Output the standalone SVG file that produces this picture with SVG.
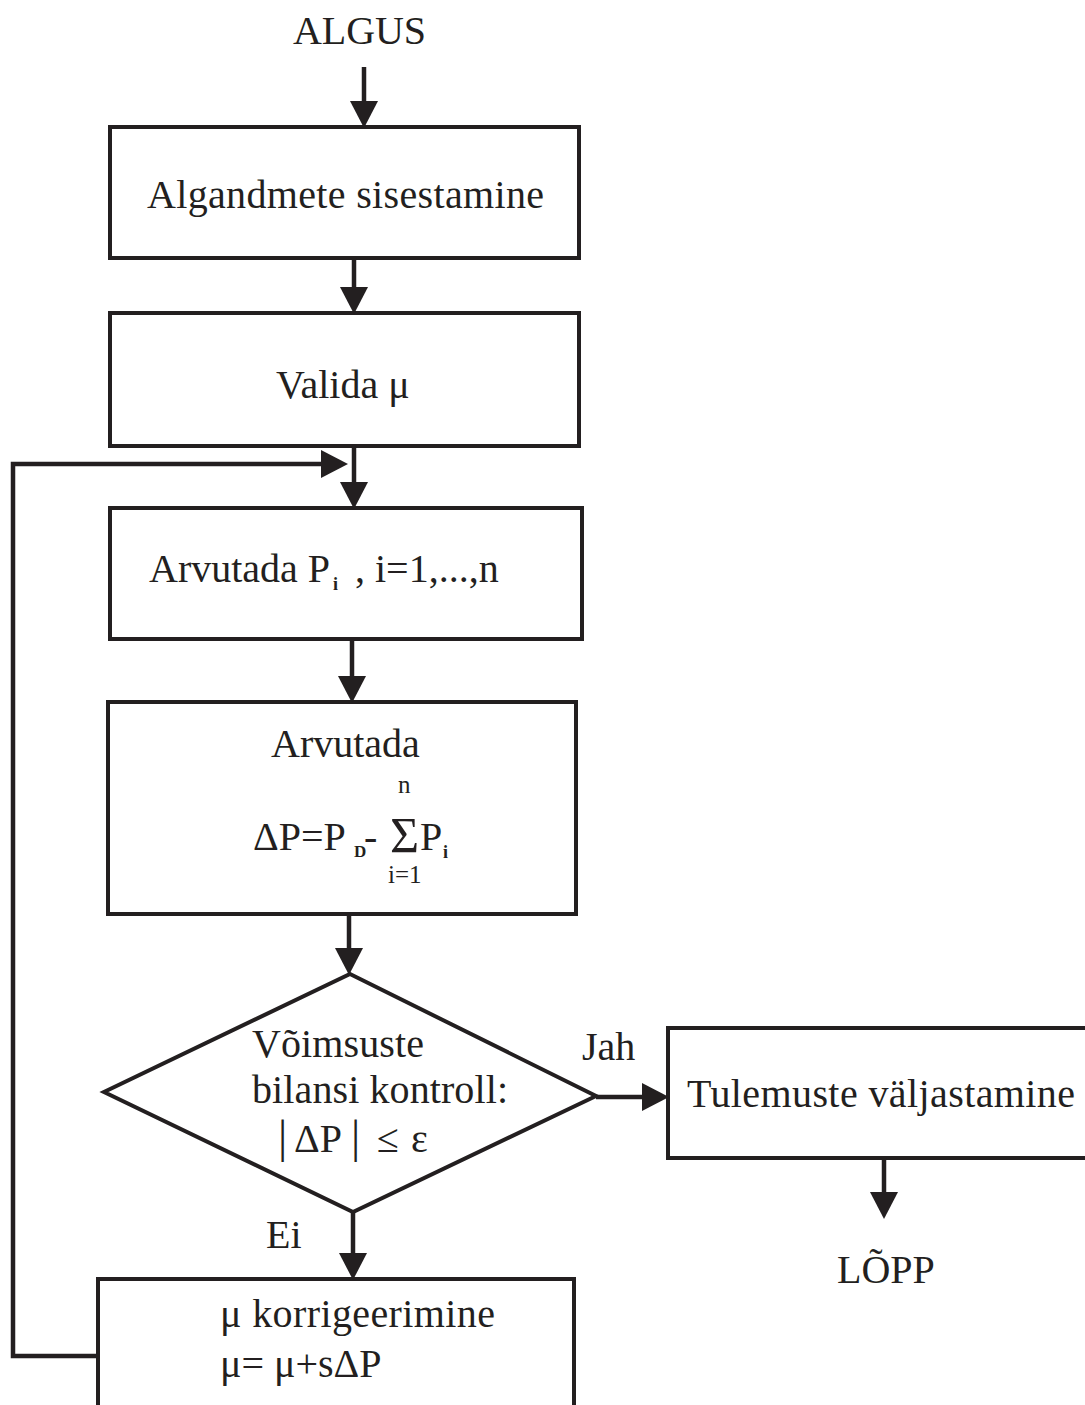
<svg xmlns="http://www.w3.org/2000/svg" width="1085" height="1405" viewBox="0 0 1085 1405">
<style>
.box{fill:#fff;stroke:#231f20;stroke-width:4}
.con{fill:none;stroke:#231f20;stroke-width:4.5;stroke-linejoin:miter}
text{font-family:"Liberation Serif","Times New Roman",serif;fill:#231f20;font-size:40px}
.sub{font-size:18px;font-weight:bold}
.sm{font-size:25px}
</style>
<defs>
<marker id="ah" markerUnits="userSpaceOnUse" markerWidth="27" markerHeight="28" refX="20" refY="14" orient="auto">
<path d="M0,0 L27,14 L0,28 z" fill="#231f20"/>
</marker>
</defs>
<rect width="1085" height="1405" fill="#fff"/>

<g id="start"><text x="293" y="44" textLength="133" lengthAdjust="spacing">ALGUS</text></g>

<g id="n1"><rect class="box" x="110" y="127" width="469" height="131"/><text x="147" y="208" textLength="397" lengthAdjust="spacing">Algandmete sisestamine</text></g>

<g id="n2"><rect class="box" x="110" y="313" width="469" height="133"/><text x="276" y="398">Valida μ</text></g>

<g id="n3"><rect class="box" x="110" y="508" width="472" height="131"/><text x="149" y="582">Arvutada P</text><text class="sub" x="333" y="590">i</text><text x="355" y="582">, i=1,...,n</text></g>

<g id="n4"><rect class="box" x="108" y="702" width="468" height="212"/>
<text x="271" y="757">Arvutada</text>
<text class="sm" x="398" y="793">n</text>
<text x="253" y="850">ΔP=P</text><text class="sub" x="354" y="857" style="font-size:17px">D</text><text x="364" y="850">-</text>
<text x="390" y="852" style="font-size:50px">Σ</text><text x="420" y="850">P</text><text class="sub" x="443" y="858">i</text>
<text class="sm" x="388" y="883">i=1</text>
</g>

<g id="d1"><polygon class="box" points="350,974 596,1096 353,1212 104,1092"/>
<text x="252" y="1057" textLength="172" lengthAdjust="spacing">Võimsuste</text>
<text x="252" y="1103" textLength="256" lengthAdjust="spacing">bilansi kontroll:</text>
<text x="278" y="1152" style="font-size:46px">|</text><text x="294" y="1152">ΔP</text><text x="351" y="1152" style="font-size:46px">|</text><text x="377" y="1152">≤</text><text x="411" y="1152">ε</text>
</g>

<g id="n5"><rect class="box" x="668" y="1028" width="440" height="130"/><text x="687" y="1107" textLength="388" lengthAdjust="spacing">Tulemuste väljastamine</text></g>

<g id="end"><text x="837" y="1283">LÕPP</text></g>

<g id="n6"><rect class="box" x="98" y="1279" width="476" height="150"/>
<text x="220" y="1327" textLength="275" lengthAdjust="spacing">μ korrigeerimine</text>
<text x="220" y="1377">μ= μ+sΔP</text></g>

<g id="labels"><text x="582" y="1060">Jah</text><text x="266" y="1248">Ei</text></g>

<g id="connectors">
<path class="con" d="M364,67 V121" marker-end="url(#ah)"/>
<path class="con" d="M354,258 V307" marker-end="url(#ah)"/>
<path class="con" d="M354,446 V502" marker-end="url(#ah)"/>
<path class="con" d="M98,1356 H13 V464 H341" marker-end="url(#ah)"/>
<path class="con" d="M352,641 V696" marker-end="url(#ah)"/>
<path class="con" d="M349,914 V968" marker-end="url(#ah)"/>
<path class="con" d="M353,1212 V1273" marker-end="url(#ah)"/>
<path class="con" d="M596,1097 H662" marker-end="url(#ah)"/>
<path class="con" d="M884,1158 V1212" marker-end="url(#ah)"/>
</g>
</svg>
